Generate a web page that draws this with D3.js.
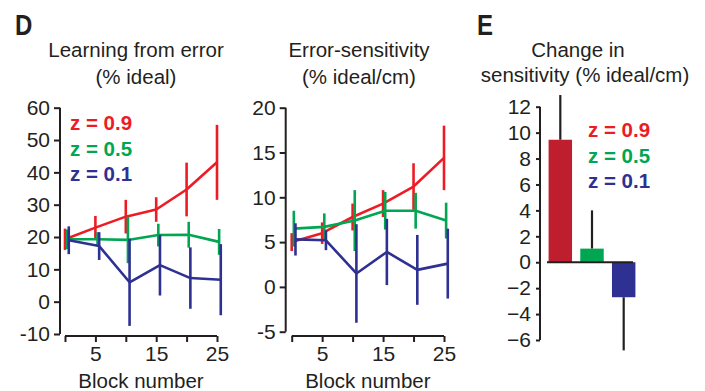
<!DOCTYPE html>
<html>
<head>
<meta charset="utf-8">
<script src="https://cdn.jsdelivr.net/npm/d3@7"></script>
<style>
  body { margin: 0; background: #fff; }
  svg text { font-family: "Liberation Sans", Arial, sans-serif; fill: #231f20; }
  .panel-letter { font-family: "Liberation Sans", Arial, sans-serif !important; font-weight: bold; font-size: 30px; }
  .axis path, .axis line { stroke: #231f20; stroke-width: 2px; }
</style>
</head>
<body>
<svg id="chart" width="705" height="391"></svg>
<script>
  // data
  var blocks = [0, 5, 10, 15, 20, 25];
  var seriesNames = ["z = 0.9", "z = 0.5", "z = 0.1"];
  var xTickLabels = ["", "5", "", "15", "", "25"];

  // learning from error (% ideal)
  var learnHigh = [19.3, 22.9, 26.3, 28.5, 34.7, 43.1];
  var learnHighErr = [3.3, 3.6, 5.2, 3.8, 8.3, 11.6];
  var learnMid = [19.3, 19.3, 19.1, 20.6, 20.7, 18.5];
  var learnMidErr = [3.0, 2.2, 7.2, 3.5, 4.0, 4.0];
  var learnLow = [19.0, 17.2, 6.0, 11.3, 7.3, 6.8];
  var learnLowErr = [4.3, 4.3, 13.5, 9.4, 9.5, 11.0];

  // error-sensitivity (% ideal/cm)
  var sensHigh = [5.0, 6.0, 7.8, 9.3, 11.2, 14.4];
  var sensHighErr = [1.0, 1.2, 1.5, 1.5, 2.6, 3.6];
  var sensMid = [6.5, 6.7, 7.4, 8.5, 8.5, 7.4];
  var sensMidErr = [2.0, 1.5, 3.4, 2.1, 2.0, 2.0];
  var sensLow = [5.3, 5.2, 1.5, 3.9, 1.9, 2.6];
  var sensLowErr = [1.8, 1.1, 5.5, 3.7, 3.9, 3.9];

  // change in sensitivity (% ideal/cm)
  var change = [9.45, 1.05, -2.7];
  var changeErr = [3.45, 2.95, 4.1];

  var lineColors = ["#ed1c24", "#00a651", "#2e3192"];
  var barColors = ["#be1e2d", "#00a651", "#2e3192"];
  var dodge = [0, 0.35, 0.62];

  var svg = d3.select("#chart");

  var linePanel = function(opt) {
    var g = svg.append("g");
    var x = d3.scaleLinear().domain([0, 25]).range(opt.xRange);
    var y = d3.scaleLinear().domain(opt.yDomain).range(opt.yRange);

    // y axis
    var yAxis = d3.axisLeft(y).tickValues(opt.yTicks).tickSize(6).tickPadding(4)
      .tickFormat(function(d){ return String(d); });
    var ya = g.append("g").attr("class", "axis")
      .attr("transform", "translate(" + opt.yAxisX + ",0)").call(yAxis);
    ya.select(".domain").attr("d", "M0," + y(opt.yDomain[1]) + "V" + y(opt.yDomain[0]));
    ya.selectAll("text").style("font-size", "21px");

    // x axis
    var xAxis = d3.axisBottom(x).tickValues(blocks).tickSize(6).tickPadding(4)
      .tickFormat(function(d, i){ return xTickLabels[i]; });
    var xa = g.append("g").attr("class", "axis")
      .attr("transform", "translate(0," + opt.xAxisY + ")").call(xAxis);
    xa.select(".domain").attr("d", "M" + x(0) + ",0H" + x(25));
    xa.selectAll("text").style("font-size", "21px");

    // series
    opt.series.forEach(function(s, k) {
      var pts = blocks.map(function(b, i){
        return { x: b + dodge[k], v: s.vals[i], e: s.errs[i] };
      });
      g.append("path")
        .datum(pts)
        .attr("fill", "none")
        .attr("stroke", lineColors[k])
        .attr("stroke-width", 2.6)
        .attr("stroke-linejoin", "round")
        .attr("d", d3.line().x(function(d){ return x(d.x); }).y(function(d){ return y(d.v); }));
      g.selectAll(null)
        .data(pts)
        .enter()
        .append("line")
        .attr("x1", function(d){ return x(d.x); })
        .attr("x2", function(d){ return x(d.x); })
        .attr("y1", function(d){ return y(d.v - d.e); })
        .attr("y2", function(d){ return y(d.v + d.e); })
        .attr("stroke", lineColors[k])
        .attr("stroke-width", 2.6);
    });

    // titles
    g.selectAll(null).data(opt.title).enter().append("text")
      .attr("x", opt.titleX)
      .attr("y", function(d, i){ return 57 + i * 27; })
      .attr("text-anchor", "middle")
      .style("font-size", "20.5px")
      .text(function(d){ return d; });
    g.append("text")
      .attr("x", (x(0) + x(25)) / 2)
      .attr("y", 388)
      .attr("text-anchor", "middle")
      .style("font-size", "20.5px")
      .text("Block number");
    return g;
  };

  var legend = function(x0, y0) {
    svg.selectAll(null).data(seriesNames).enter().append("text")
      .attr("x", x0)
      .attr("y", function(d, i){ return y0 + i * 25.5; })
      .style("font-size", "20.5px")
      .style("font-weight", "bold")
      .style("fill", function(d, i){ return lineColors[i]; })
      .text(function(d){ return d; });
  };

  // panel D left
  linePanel({
    xRange: [65, 217], yDomain: [-10, 60], yRange: [334, 107.7],
    yTicks: [-10, 0, 10, 20, 30, 40, 50, 60], yAxisX: 60, xAxisY: 336,
    title: ["Learning from error", "(% ideal)"], titleX: 136,
    series: [
      { vals: learnHigh, errs: learnHighErr },
      { vals: learnMid, errs: learnMidErr },
      { vals: learnLow, errs: learnLowErr }
    ]
  });
  legend(70, 130);

  // panel D right
  linePanel({
    xRange: [291.7, 444], yDomain: [-5, 20], yRange: [331.7, 107.7],
    yTicks: [-5, 0, 5, 10, 15, 20], yAxisX: 285.7, xAxisY: 336,
    title: ["Error-sensitivity", "(% ideal/cm)"], titleX: 359,
    series: [
      { vals: sensHigh, errs: sensHighErr },
      { vals: sensMid, errs: sensMidErr },
      { vals: sensLow, errs: sensLowErr }
    ]
  });

  // panel E
  var gE = svg.append("g");
  var xb = d3.scaleBand().domain(seriesNames).range([547, 637]).paddingInner(0.26).paddingOuter(0.05);
  var yb = d3.scaleLinear().domain([-6, 12]).range([340, 106.7]);
  var yAxisE = d3.axisLeft(yb).tickValues(d3.range(-6, 13, 2)).tickSize(4).tickPadding(5)
    .tickFormat(function(d){ return d < 0 ? "\u2212" + Math.abs(d) : String(d); });
  var yaE = gE.append("g").attr("class", "axis").attr("transform", "translate(540,0)").call(yAxisE);
  yaE.select(".domain").attr("d", "M0," + yb(12) + "V" + yb(-6));
  yaE.selectAll("text").style("font-size", "21px");

  gE.selectAll(null).data(change).enter().append("line")
    .attr("x1", function(d, i){ return xb(seriesNames[i]) + xb.bandwidth() / 2; })
    .attr("x2", function(d, i){ return xb(seriesNames[i]) + xb.bandwidth() / 2; })
    .attr("y1", function(d){ return yb(d); })
    .attr("y2", function(d, i){ return yb(d + (d >= 0 ? 1 : -1) * changeErr[i]); })
    .attr("stroke", "#231f20")
    .attr("stroke-width", 2.2);

  gE.selectAll(null).data(change).enter().append("rect")
    .attr("x", function(d, i){ return xb(seriesNames[i]); })
    .attr("width", xb.bandwidth())
    .attr("y", function(d){ return yb(Math.max(0, d)); })
    .attr("height", function(d){ return Math.abs(yb(d) - yb(0)); })
    .attr("fill", function(d, i){ return barColors[i]; });

  gE.append("line")
    .attr("x1", 547).attr("x2", 633)
    .attr("y1", yb(0)).attr("y2", yb(0))
    .attr("stroke", "#231f20").attr("stroke-width", 2);

  gE.selectAll(null).data(["Change in", "sensitivity (% ideal/cm)"]).enter().append("text")
    .attr("x", function(d, i){ return i ? 585 : 578; })
    .attr("y", function(d, i){ return 57 + i * 25; })
    .attr("text-anchor", "middle")
    .style("font-size", "20.5px")
    .text(function(d){ return d; });
  legend(588, 137);

  // panel letters, squeezed to look condensed
  [["D", 15], ["E", 477]].forEach(function(p) {
    svg.append("text").attr("class", "panel-letter")
      .attr("transform", "translate(" + p[1] + ",35) scale(0.8,1)")
      .text(p[0]);
  });
</script>
</body>
</html>
